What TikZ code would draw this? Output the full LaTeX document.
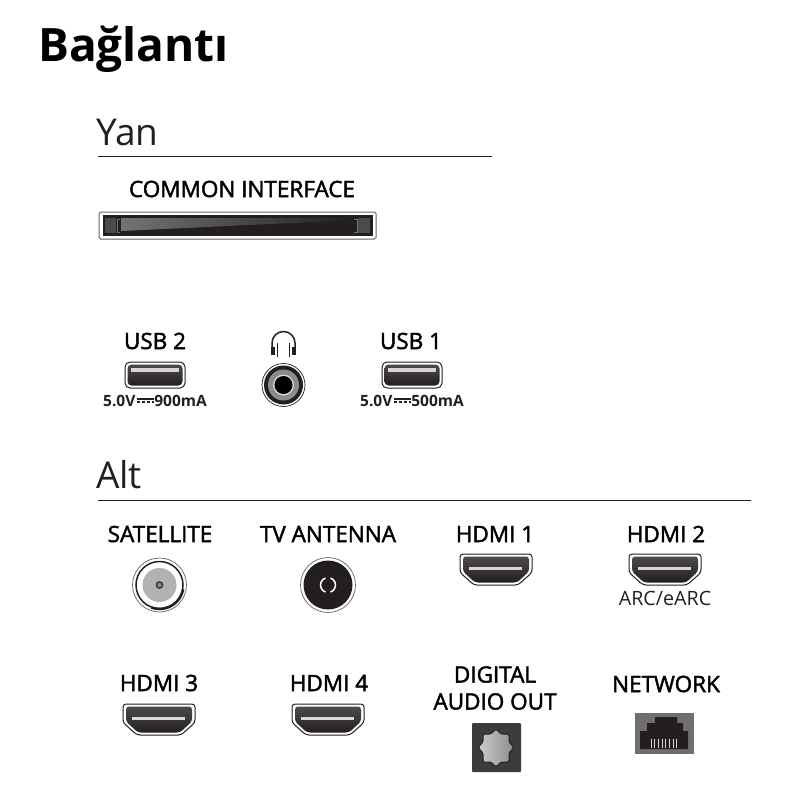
\documentclass[tikz,border=0pt]{standalone}
\usepackage{fontspec}
\setmainfont{Open Sans}
\newfontfamily\labelfont[FakeBold=2]{Open Sans}
\usetikzlibrary{shadings}
\definecolor{portdark}{HTML}{231F20}
\definecolor{portgrey}{HTML}{4D4A4A}
\definecolor{portlight}{HTML}{D9D6D4}
\tikzset{
 portlabel/.style={font=\labelfont\fontsize{22.5}{27}\selectfont,align=center,text=black},
 powerlabel/.style={font=\bfseries\fontsize{15.5}{17}\selectfont,text=portdark},
 sectionlabel/.style={font=\fontsize{37}{40}\selectfont,text=portdark,anchor=west},
 sectionrule/.style={draw=portdark,line width=1pt},
 pics/hdmiport/.style={code={
   \path[draw=portdark,line width=1pt,fill=white,rounded corners=3pt]
     (-36,-15.5) -- (36,-15.5) -- (36,3) -- (22,15.5) -- (-22,15.5) -- (-36,3) -- cycle;
   \path[top color=portgrey,bottom color=portdark,rounded corners=3pt]
     (-33,-13) -- (33,-13) -- (33,2) -- (21,13) -- (-21,13) -- (-33,2) -- cycle;
   \path[fill=portlight] (-27,-2.5) rectangle (26,0.5);
 }},
 pics/usbport/.style={code={
   \path[draw=portdark,line width=1pt,fill=white,rounded corners=5pt] (-30,-13) rectangle (30,13);
   \path[top color=portgrey,bottom color=portdark,rounded corners=4pt] (-27.5,-10.5) rectangle (27.5,10.5);
   \path[fill=portlight] (-24,-7) rectangle (24,-3);
 }},
}
\begin{document}
\begin{tikzpicture}[x=1pt,y=-1pt]
        \useasboundingbox (0,0) rectangle (800,800);
        \node[font=\bfseries\fontsize{46}{49}\selectfont,anchor=west,inner sep=0pt] (title) at (38,49) {Bağlantı};

        % side panel
        \node[sectionlabel,inner sep=0pt] (yan) at (96,132) {Yan};
        \draw[sectionrule] (98,156) -- (492,156);
        \node[portlabel] (ci) at (242,189) {COMMON INTERFACE};
        \draw[draw=portdark!70,line width=1pt,fill=white,rounded corners=1.5pt] (99,212) rectangle (376,239);
        \fill[portdark] (103,215) rectangle (373,236);
        \fill[portgrey] (105,218) rectangle (116,233);
        \fill[portgrey] (358,218) rectangle (370,233);
        \shade[left color=black!55,right color=portdark] (121,218) -- (357,218) -- (357,220) -- (121,231) -- cycle;
        \draw[black!55,line width=.8pt] (120,219) -- (117,219) -- (117,232) -- (120,232);
        \draw[black!55,line width=.8pt] (354,219) -- (357,219) -- (357,232) -- (354,232);

        \node[portlabel] (usbtwo) at (155,341) {USB 2};
        \pic at (155,375) {usbport};
        \node[powerlabel,inner sep=0pt] (usbtwopower) at (155,401) {5.0V\hspace*{19pt}900mA};
        \draw[portdark,line width=1.3pt] (usbtwopower.west) ++(34,-2) -- ++(17,0);
        \draw[portdark,line width=1.3pt,dash pattern=on 3.5pt off 1.5pt] (usbtwopower.west) ++(34,1) -- ++(17,0);

        % headphones
        \draw[portdark,line width=1.5pt] (272,348) -- (272,343) arc[start angle=180,end angle=360,radius=11.5] -- (295,348);
        \fill[portdark] (271,347) rectangle (275,355);
        \fill[portdark] (292,347) rectangle (296,355);
        \draw[portdark,line width=1.2pt] (277.5,343) -- (277.5,357);
        \draw[portdark,line width=1.2pt] (289.5,343) -- (289.5,357);
        \draw[portdark,line width=.7pt] (283.5,385) circle (21.5);
        \fill[portdark] (283.5,385) circle (19.5);
        \fill[black!45] (283.5,385) circle (15.5);
        \fill[portlight] (283.5,385) circle (10.5);
        \fill[black] (283.5,385) circle (9);

        \node[portlabel] (usbone) at (411,341) {USB 1};
        \pic at (412,375) {usbport};
        \node[powerlabel,inner sep=0pt] (usbonepower) at (412,401) {5.0V\hspace*{19pt}500mA};
        \draw[portdark,line width=1.3pt] (usbonepower.west) ++(34,-2) -- ++(17,0);
        \draw[portdark,line width=1.3pt,dash pattern=on 3.5pt off 1.5pt] (usbonepower.west) ++(34,1) -- ++(17,0);

        % bottom panel
        \node[sectionlabel,inner sep=0pt] (alt) at (96,475) {Alt};
        \draw[sectionrule] (98,500) -- (751,500);

        \node[portlabel] (satellite) at (160,534) {SATELLITE};
        \draw[portdark!70,line width=.7pt] (159.5,585) circle (27);
        \draw[portdark,line width=1.5pt] (159.5,585) circle (23.5);
        \draw[portdark,line width=2.5pt] (159.5,585) ++(10:24) arc[start angle=10,end angle=110,radius=24];
        \fill[black!30] (159.5,585) circle (17);
        \fill[portdark!85] (159.5,585) circle (4);
        \fill[black!45] (159.5,585) circle (2);

        \node[portlabel] (antenna) at (328,534) {TV ANTENNA};
        \draw[portdark!70,line width=.7pt] (328,585) circle (27.5);
        \fill[portdark] (328,585) circle (24.5);
        \draw[white,line width=1.5pt] (328,585) ++(70:7.5) arc[start angle=70,end angle=-70,radius=7.5];
        \draw[white,line width=1.5pt] (328,585) ++(110:7.5) arc[start angle=110,end angle=250,radius=7.5];

        \node[portlabel] (hdmione) at (495,534) {HDMI 1};
        \pic at (496,569.5) {hdmiport};
        \node[portlabel] (hdmitwo) at (666,534) {HDMI 2};
        \pic at (665,569.5) {hdmiport};
        \node[font=\fontsize{19.7}{22}\selectfont,text=portdark] (arc) at (665,598) {ARC/eARC};

        \node[portlabel] (hdmithree) at (159,683) {HDMI 3};
        \pic at (159,719.5) {hdmiport};
        \node[portlabel] (hdmifour) at (329,683) {HDMI 4};
        \pic at (328,719.5) {hdmiport};

        \node[portlabel] (digital) at (495,688) {DIGITAL\\AUDIO OUT};
        \fill[portgrey!80!black,rounded corners=1pt] (472,723) rectangle (521,772);
        \shade[left color=black!20,right color=black!45,draw=portdark,line width=1pt,rounded corners=1.5pt]
          (483,734) -- (491,734) -- (496,729) -- (501,734) -- (509,734) -- (509,742)
          -- (514,747.5) -- (509,753) -- (509,762) -- (501,762) -- (496,767) -- (491,762)
          -- (483,762) -- (483,753) -- (478,747.5) -- (483,742) -- cycle;

        \node[portlabel] (network) at (666,684) {NETWORK};
        \fill[portgrey!80!white] (635,713) rectangle (694,754);
        \fill[portdark] (640,749) -- (640,731) -- (647,731) -- (647,723) -- (655,723) -- (655,717)
          -- (677,717) -- (677,723) -- (683,723) -- (683,731) -- (688,731) -- (688,749) -- cycle;
        \foreach \pin in {0,...,7} {
          \draw[portlight,line width=1pt] (651+\pin*3.7,739) -- (651+\pin*3.7,748);
        }
    \end{tikzpicture}
\end{document}
